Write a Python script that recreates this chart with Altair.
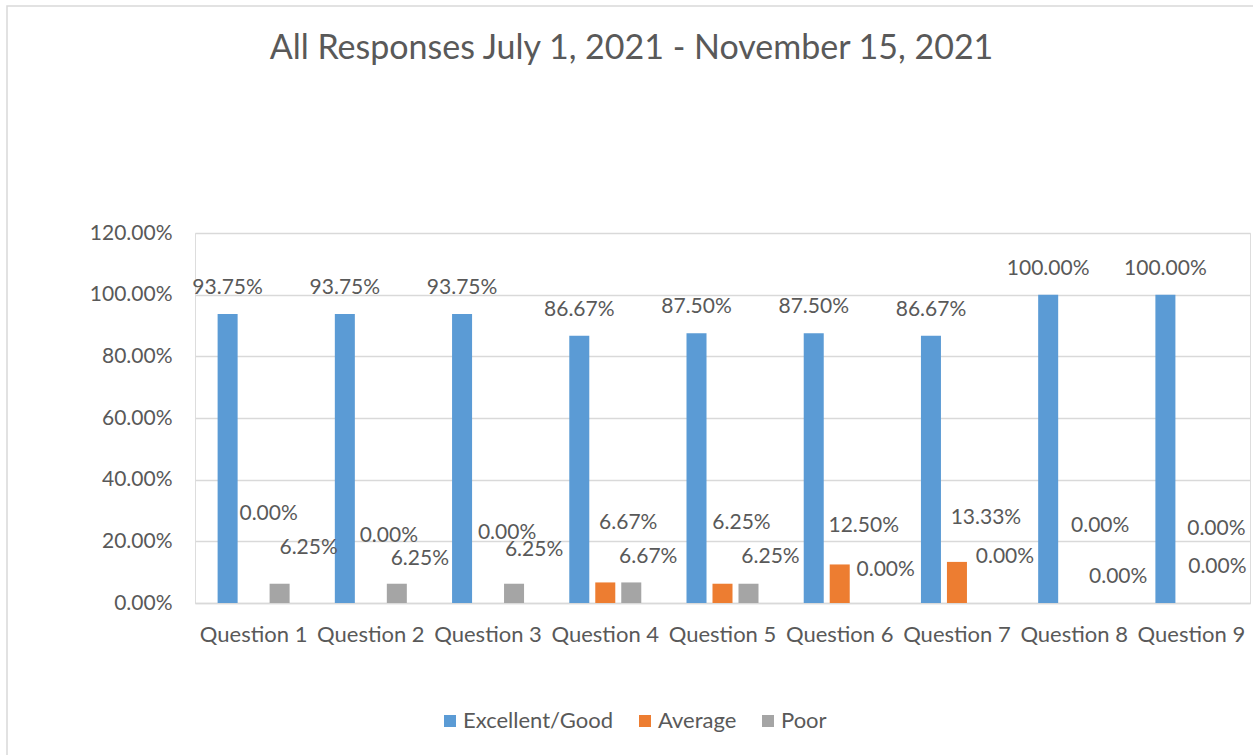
import altair as alt
import pandas as pd

# Survey results, share of responses per rating
questions = ["Question 1", "Question 2", "Question 3", "Question 4", "Question 5",
             "Question 6", "Question 7", "Question 8", "Question 9"]
series = ["Excellent/Good", "Average", "Poor"]
excellent_good = [0.9375, 0.9375, 0.9375, 0.8667, 0.8750, 0.8750, 0.8667, 1.0000, 1.0000]
average = [0.0000, 0.0000, 0.0000, 0.0667, 0.0625, 0.1250, 0.1333, 0.0000, 0.0000]
poor = [0.0625, 0.0625, 0.0625, 0.0667, 0.0625, 0.0000, 0.0000, 0.0000, 0.0000]
colors = ["#5B9BD5", "#ED7D31", "#A5A5A5"]

# Hand-placed data labels: pixel offsets from the top centre of each bar
label_dx = {
    "Excellent/Good": [0, 0, 0, 0, 0, 0, 0, 0, 0],
    "Average": [15, 18, 19, 23, 19, 24, 29, 26, 25],
    "Poor": [29, 23, 20, 17, 22, 20, 22, 18, 0],
}
label_dy = {
    "Excellent/Good": [-26, -26, -26, -26, -26, -26, -26, -26, -26],
    "Average": [-89, -67, -70, -59, -61, -38, -44, -77, -74],
    "Poor": [-36, -25, -34, -25, -27, -33, -46, -26, -36],
}

values = {"Excellent/Good": excellent_good, "Average": average, "Poor": poor}
rows = []
for s in series:
    for i, q in enumerate(questions):
        rows.append({"question": q, "series": s, "value": values[s][i],
                     "dx": label_dx[s][i], "dy": label_dy[s][i]})
df = pd.DataFrame(rows)

TEXT = "#595959"
GRID = "#D9D9D9"
FONT = "Lato"

x_enc = alt.X(
    "question:N", sort=questions,
    scale=alt.Scale(paddingInner=0, paddingOuter=0),
    axis=alt.Axis(title=None, labelAngle=0, labelFont=FONT, labelFontSize=22,
                  labelColor=TEXT, labelPadding=21, tickSize=0, ticks=False,
                  domainColor=GRID, domainWidth=1.5, grid=False),
)
xoff_enc = alt.XOffset(
    "series:N", sort=series,
    scale=alt.Scale(paddingInner=0.23, paddingOuter=0.87),
)
y_enc = alt.Y(
    "value:Q",
    scale=alt.Scale(domain=[0, 1.2], nice=False),
    axis=alt.Axis(title=None, values=[0, 0.2, 0.4, 0.6, 0.8, 1.0, 1.2], format=".2%",
                  labelFont=FONT, labelFontSize=21, labelColor=TEXT, labelPadding=23,
                  tickSize=0, ticks=False, domain=False, gridColor=GRID, gridWidth=1.5),
)

base = alt.Chart(df)

bars = base.mark_bar().encode(
    x=x_enc,
    xOffset=xoff_enc,
    y=y_enc,
    color=alt.Color(
        "series:N",
        scale=alt.Scale(domain=series, range=colors),
        legend=alt.Legend(title=None, orient="none", legendX=244, legendY=477,
                          direction="horizontal", symbolType="square", symbolSize=144,
                          symbolStrokeWidth=0, labelFont=FONT, labelFontSize=22,
                          labelColor=TEXT, labelOffset=2, columnPadding=20),
    ),
)

labels = base.mark_text(
    font=FONT, fontSize=21, color=TEXT, baseline="middle", align="center",
    dx=alt.expr("datum.dx"), dy=alt.expr("datum.dy"),
).encode(
    x=x_enc,
    xOffset=xoff_enc,
    y=y_enc,
    text=alt.Text("value:Q", format=".2%"),
)

# Light outer frame around the whole chart
frame = alt.Chart(pd.DataFrame({"k": [0]})).mark_rect(
    filled=False, stroke=GRID, strokeWidth=1.5,
).encode(
    x=alt.value(-188), x2=alt.value(1400),
    y=alt.value(-227), y2=alt.value(900),
)

chart = alt.layer(frame, bars, labels).properties(
    width=1055,
    height=370,
    title=alt.TitleParams(
        "All Responses July 1, 2021 - November 15, 2021",
        font=FONT, fontSize=34, fontWeight="normal", color=TEXT,
        anchor="middle", frame="group", dx=-91, baseline="alphabetic", offset=-88,
    ),
    autosize=alt.AutoSizeParams(type="none"),
    padding={"left": 195, "top": 233, "right": 3, "bottom": 152},
).configure_view(strokeWidth=0).configure(background="white")

chart.save("out.html", embed_options={"renderer": "svg", "actions": False})
